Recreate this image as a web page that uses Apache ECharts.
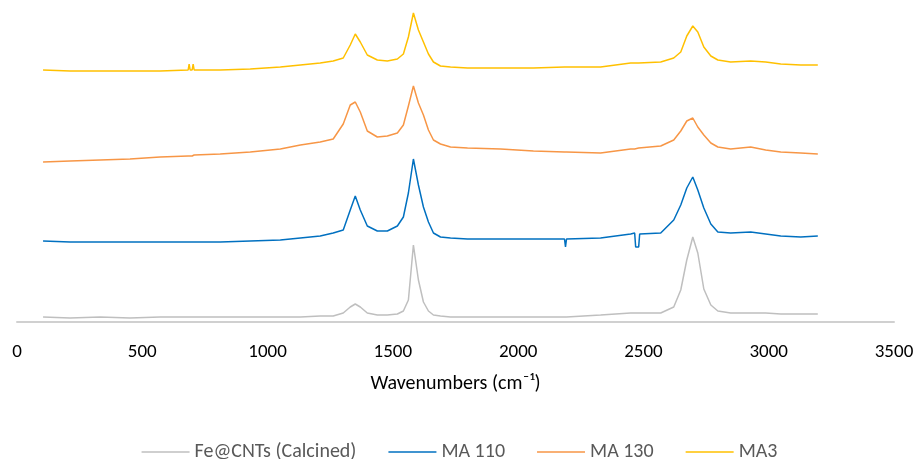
<!DOCTYPE html>
<html>
<head>
<meta charset="utf-8">
<script src="https://cdn.jsdelivr.net/npm/echarts@6/dist/echarts.min.js"></script>
<style>
html,body{margin:0;padding:0;background:#fff}
#main{width:919px;height:459px}
</style>
</head>
<body>
<div id="main"></div>
<script>
// wavenumber grid (cm-1)
var wavenumbers = [104, 212, 332, 451, 571, 683, 687, 691, 699, 703, 707, 811, 931, 1051, 1131, 1210,
    1262, 1302, 1330, 1350, 1370, 1398, 1438, 1478, 1518, 1542, 1562, 1582, 1602, 1622, 1642,
    1662, 1690, 1730, 1798, 1930, 2061, 2185, 2189, 2193, 2329, 2449, 2465, 2469, 2481, 2485,
    2569, 2621, 2649, 2673, 2697, 2717, 2741, 2769, 2797, 2848, 2928, 2988, 3048, 3128, 3196];

// intensities (arbitrary units, already offset the way the chart stacks them)
var feCnt = [5, 4, 5, 4, 5, 5, 5, 5, 5, 5, 5, 5, 5, 5, 5, 6,
    6, 9, 15, 18, 15, 9, 7, 7, 8, 11, 22, 77, 42, 20, 11,
    7, 6, 5, 5, 5, 5, 5, 5, 5, 7, 9, 9, 9, 9, 9,
    9, 15, 32, 62, 85, 69, 33, 17, 11, 9, 9, 9, 8, 8, 8];
var ma110 = [81, 80, 80, 80, 80, 80, 80, 80, 80, 80, 80, 80, 81, 82, 84, 86,
    89, 92, 112, 126, 112, 96, 91, 91, 96, 105, 129, 163, 137, 115, 100,
    89, 85, 84, 83, 83, 83, 83, 75, 83, 84, 88, 89, 75, 75, 88,
    89, 102, 117, 134, 145, 132, 114, 98, 90, 89, 90, 88, 86, 85, 86];
var ma130 = [160, 161, 162, 163, 165, 166, 166, 166, 166, 167, 167, 168, 170, 173, 177, 180,
    183, 198, 217, 220, 210, 191, 185, 186, 189, 197, 216, 236, 219, 207, 192,
    182, 178, 175, 174, 173, 171, 170, 170, 170, 169, 173, 173, 173, 174, 174,
    176, 182, 191, 201, 204, 195, 187, 179, 175, 173, 175, 172, 170, 169, 168];
var ma3 = [252, 251, 251, 251, 251, 252, 258, 252, 252, 258, 252, 252, 253, 255, 257, 259,
    261, 264, 277, 288, 280, 267, 262, 261, 263, 268, 285, 309, 292, 280, 268,
    260, 256, 255, 254, 254, 254, 255, 255, 255, 255, 259, 259, 259, 259, 259,
    260, 264, 270, 286, 296, 290, 275, 266, 262, 260, 261, 260, 258, 257, 257];

var seriesNames = ['Fe@CNTs (Calcined)', 'MA 110', 'MA 130', 'MA3'];
var seriesColors = ['#BFBFBF', '#0070C0', '#F79646', '#FFC000'];
var seriesValues = [feCnt, ma110, ma130, ma3];

var fontFam = 'Carlito, Calibri, Lato, sans-serif';

function pairs(vals) {
    return wavenumbers.map(function (w, i) { return [w, vals[i]]; });
}

var myChart = echarts.init(document.getElementById('main'));

var option = {
    animation: false,
    grid: { left: 17, right: 25, top: 10, bottom: 137 },
    legend: {
        data: seriesNames,
        top: 437,
        left: 'center',
        icon: 'rect',
        itemWidth: 48,
        itemHeight: 1.5,
        itemGap: 32,
        textStyle: { color: '#595959', fontSize: 20, fontFamily: fontFam }
    },
    xAxis: {
        type: 'value',
        min: 0,
        max: 3500,
        interval: 500,
        name: 'Wavenumbers (cm\u207B\u00B9)',
        nameLocation: 'middle',
        nameGap: 52,
        nameTextStyle: { color: '#000', fontSize: 20, fontFamily: fontFam },
        axisLine: { lineStyle: { color: '#D0D0D0', width: 2 } },
        axisTick: { show: false },
        splitLine: { show: false },
        axisLabel: {
            color: '#000', fontSize: 19, margin: 21, fontFamily: fontFam,
            formatter: function (v) { return String(v); }
        }
    },
    yAxis: {
        type: 'value',
        min: 0,
        max: 312,
        show: false
    },
    series: seriesNames.map(function (name, i) {
        return {
            name: name,
            type: 'line',
            symbol: 'none',
            data: pairs(seriesValues[i]),
            lineStyle: { color: seriesColors[i], width: 1.5 },
            itemStyle: { color: seriesColors[i] }
        };
    })
};

myChart.setOption(option);
</script>
</body>
</html>
